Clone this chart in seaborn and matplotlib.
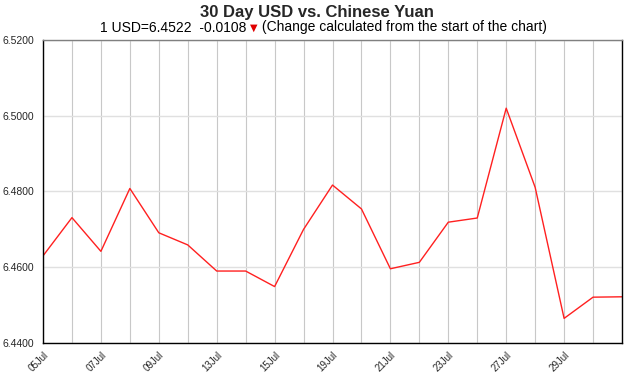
import matplotlib
matplotlib.use("Agg")
import matplotlib.pyplot as plt
import seaborn as sns
import pandas as pd
from matplotlib.ticker import FormatStrFormatter

dates = ["05Jul", "06Jul", "07Jul", "08Jul", "09Jul", "12Jul", "13Jul", "14Jul",
         "15Jul", "16Jul", "19Jul", "20Jul", "21Jul", "22Jul", "23Jul", "26Jul",
         "27Jul", "28Jul", "29Jul", "30Jul", "02Aug"]
rates = [6.4630, 6.4731, 6.4642, 6.4808, 6.4691, 6.4659, 6.4590, 6.4590,
         6.4549, 6.4700, 6.4817, 6.4754, 6.4596, 6.4613, 6.4719, 6.4730,
         6.5020, 6.4811, 6.4465, 6.4521, 6.4522]
yticks = [6.44, 6.46, 6.48, 6.50, 6.52]

df = pd.DataFrame({"idx": range(len(dates)), "rate": rates})

sns.set_style("white")
plt.rcParams["font.family"] = ["Liberation Sans", "DejaVu Sans"]

fig = plt.figure(figsize=(6.33, 3.72), dpi=100)
ax = fig.add_axes([43 / 633, 1 - 343 / 372, (622 - 43) / 633, (343 - 40) / 372])

sns.lineplot(data=df, x="idx", y="rate", ax=ax, color="#ff2020", linewidth=1.0)

n = len(dates)
ax.set_xlim(0, n - 1)
ax.set_ylim(6.44, 6.52)
ax.set_xticks(range(n))
ax.set_xticklabels([d if (i % 2 == 0 and i < n - 1) else "" for i, d in enumerate(dates)],
                   rotation=45, ha="right", rotation_mode="anchor", fontsize=7)
ax.set_yticks(yticks)
ax.yaxis.set_major_formatter(FormatStrFormatter("%.4f"))
ax.tick_params(axis="y", length=5, width=0.8, color="#333333", labelsize=7.5, pad=1.5)
ax.tick_params(axis="x", length=0, pad=5)
ax.set_xlabel("")
ax.set_ylabel("")

ax.xaxis.grid(True, color="#c8c8c8", linewidth=0.8)
ax.yaxis.grid(True, color="#e0e0e0", linewidth=1.0)
ax.set_axisbelow(True)

for side in ["left", "bottom", "right"]:
    ax.spines[side].set_color("#000000")
    ax.spines[side].set_linewidth(1.0)
ax.spines["top"].set_color("#808080")
ax.spines["top"].set_linewidth(1.0)

fig.text(0.5, 1 - 12 / 372, "30 Day USD vs. Chinese Yuan", ha="center", va="center",
         fontsize=12, fontweight="bold")

# subtitle assembled from pieces
fig.canvas.draw()
r = fig.canvas.get_renderer()
parts = [("1 USD=6.4522  -0.0108 ", "black"), ("\u25bc", "#e00000"),
         (" (Change calculated from the start of the chart)", "black")]
texts = []
widths = []
for s, c in parts:
    t = fig.text(0, 1 - 27.5 / 372, s, ha="left", va="center", fontsize=10, color=c,
                 family=["Liberation Sans", "DejaVu Sans"] if c == "black" else ["DejaVu Sans"])
    if c != "black":
        t.set_fontsize(7)
    texts.append(t)
    widths.append(t.get_window_extent(r).width)
total = sum(widths)
x0 = 100
for t, w in zip(texts, widths):
    t.set_x(x0 / 633)
    x0 += w

fig.savefig("out.png", dpi=100)
